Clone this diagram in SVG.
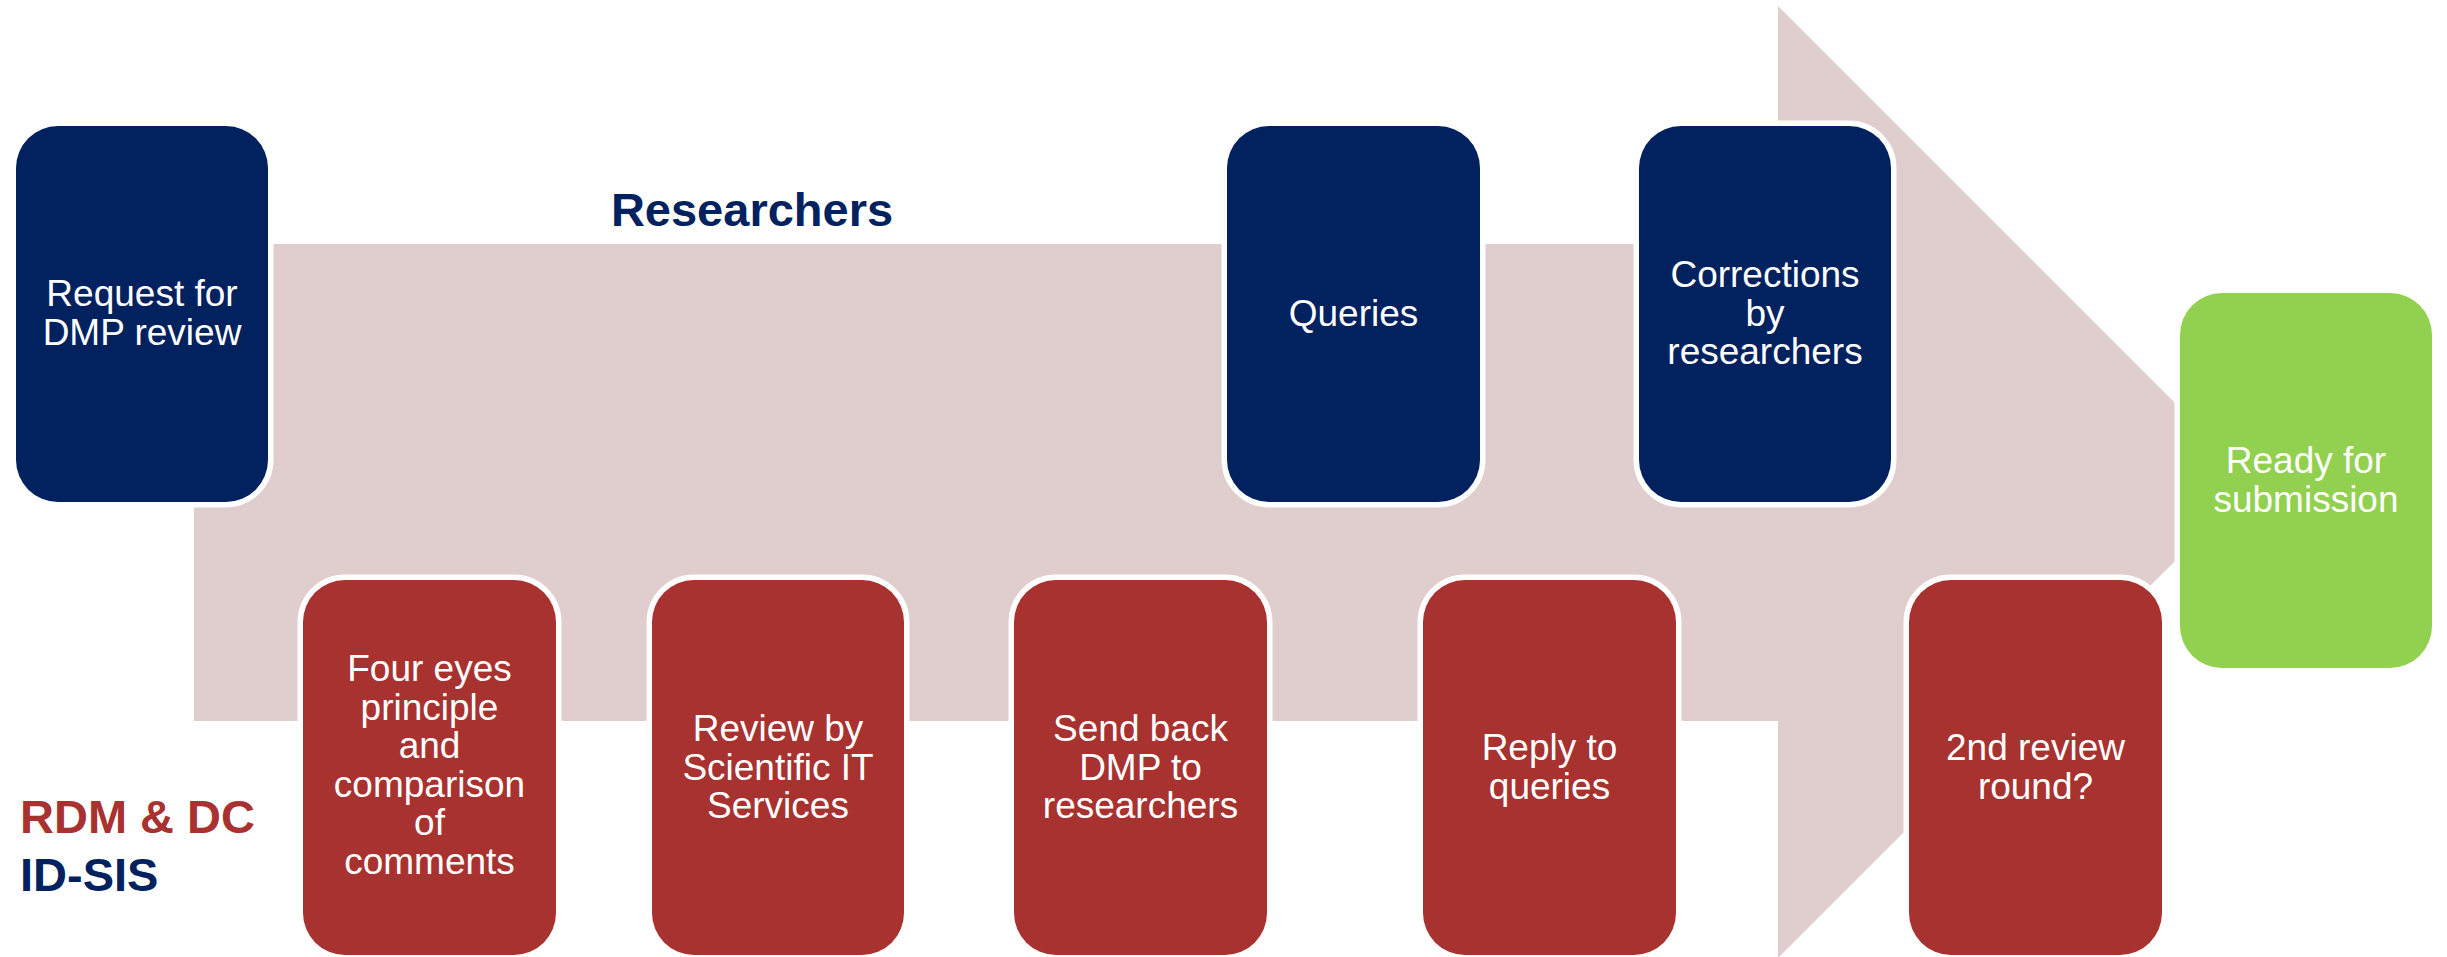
<svg xmlns="http://www.w3.org/2000/svg" width="2447" height="957" viewBox="0 0 2447 957">
  <style>
    .box { stroke: #FFFFFF; stroke-width: 11; paint-order: stroke; }
    .navy { fill: #02215F; }
    .red { fill: #A83230; }
    .green { fill: #92D050; }
    .t { font-family: "Liberation Sans", Arial, sans-serif; font-size: 37px; fill: #FFFFFF; text-anchor: middle; }
    .lbl { font-family: "Liberation Sans", Arial, sans-serif; font-size: 47px; font-weight: bold; }
  </style>
  <rect x="0" y="0" width="2447" height="957" fill="#FFFFFF"/>

  <g id="connectors">
    <polygon id="process-arrow" points="194,244 1778,244 1778,6 2254,482 1778,958 1778,721 194,721" fill="#E0CDCE"/>
  </g>

  <g id="labels">
    <text class="lbl" x="752" y="226" fill="#02215F" text-anchor="middle">Researchers</text>
    <text class="lbl" x="20" y="833" fill="#A83230">RDM &amp; DC</text>
    <text class="lbl" x="20" y="891" fill="#02215F">ID-SIS</text>
  </g>

  <g id="node-request">
    <rect class="box navy" x="16" y="126" width="252" height="376" rx="42"/>
    <text class="t" x="142"><tspan x="142" y="306">Request for</tspan><tspan x="142" y="344.5">DMP review</tspan></text>
  </g>

  <g id="node-queries">
    <rect class="box navy" x="1227" y="126" width="253" height="376" rx="42"/>
    <text class="t" x="1353.5" y="326">Queries</text>
  </g>

  <g id="node-corrections">
    <rect class="box navy" x="1639" y="126" width="252" height="376" rx="42"/>
    <text class="t" x="1765"><tspan x="1765" y="287">Corrections</tspan><tspan x="1765" y="325.5">by</tspan><tspan x="1765" y="364">researchers</tspan></text>
  </g>

  <g id="node-ready">
    <rect class="box green" x="2180" y="293" width="252" height="375" rx="42"/>
    <text class="t" x="2306"><tspan x="2306" y="473">Ready for</tspan><tspan x="2306" y="511.5">submission</tspan></text>
  </g>

  <g id="node-four-eyes">
    <rect class="box red" x="303" y="580" width="253" height="375" rx="42"/>
    <text class="t" x="429.5"><tspan x="429.5" y="681">Four eyes</tspan><tspan x="429.5" y="719.5">principle</tspan><tspan x="429.5" y="758">and</tspan><tspan x="429.5" y="796.5">comparison</tspan><tspan x="429.5" y="835">of</tspan><tspan x="429.5" y="873.5">comments</tspan></text>
  </g>

  <g id="node-review">
    <rect class="box red" x="652" y="580" width="252" height="375" rx="42"/>
    <text class="t" x="778"><tspan x="778" y="741">Review by</tspan><tspan x="778" y="779.5">Scientific IT</tspan><tspan x="778" y="818">Services</tspan></text>
  </g>

  <g id="node-send-back">
    <rect class="box red" x="1014" y="580" width="253" height="375" rx="42"/>
    <text class="t" x="1140.5"><tspan x="1140.5" y="741">Send back</tspan><tspan x="1140.5" y="779.5">DMP to</tspan><tspan x="1140.5" y="818">researchers</tspan></text>
  </g>

  <g id="node-reply">
    <rect class="box red" x="1423" y="580" width="253" height="375" rx="42"/>
    <text class="t" x="1549.5"><tspan x="1549.5" y="760">Reply to</tspan><tspan x="1549.5" y="798.5">queries</tspan></text>
  </g>

  <g id="node-second-round">
    <rect class="box red" x="1909" y="580" width="253" height="375" rx="42"/>
    <text class="t" x="2035.5"><tspan x="2035.5" y="760">2nd review</tspan><tspan x="2035.5" y="798.5">round?</tspan></text>
  </g>
</svg>
